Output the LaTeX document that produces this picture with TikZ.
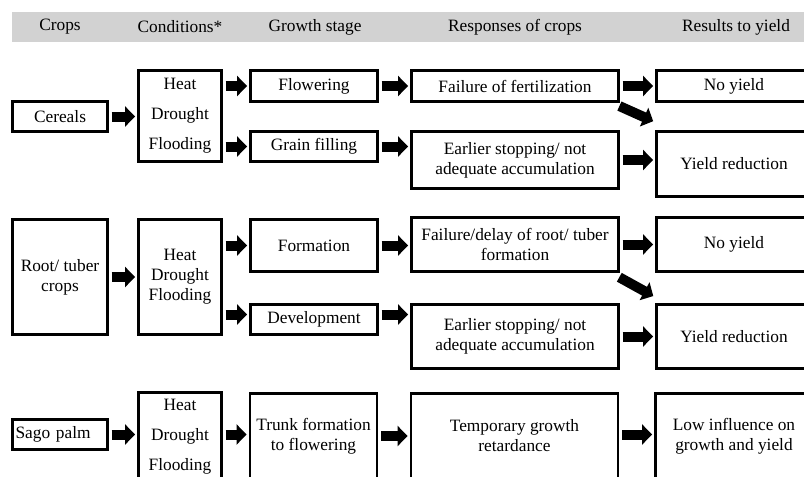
\documentclass[tikz,border=0pt]{standalone}
\usepackage{fontspec}
\setmainfont{Liberation Serif}
\usepackage{xcolor}
\usetikzlibrary{arrows.meta, positioning, calc}
\definecolor{headgray}{RGB}{210,210,210}
\newdimen\pxu \pxu=0.75pt

\begin{document}
\begin{tikzpicture}[x=\pxu, y=-\pxu,
    every node/.style={font=\fontsize{13}{15}\selectfont, align=center, inner sep=1pt},
    box/.style 2 args={draw, line width=2.2pt, minimum width=#1\pxu, minimum height=#2\pxu},
    fat/.style={line width=7.5pt, -{Triangle[length=7.5pt, width=15pt]}, shorten <=2pt, shorten >=1.5pt}]
    \useasboundingbox (0,0) rectangle (804,476);
    \clip (0,0) rectangle (804,476);
    % header
    \fill[headgray] (12,12) rectangle (810,42);
    \node (hcrop) at (60,27) {Crops};
    \node (hcond) at (180,27) {Conditions*};
    \node (hstage) at (315,27) {Growth stage};
    \node (hresp) at (515,27) {Responses of crops};
    \node (hres) at (736,27) {Results to yield};
    % cereals
    \node[box={95}{30}] (cer) at (60,116.5) {Cereals};
    \node[box={83}{91}] (cond1) at (180,116) {Heat\\[7.5pt]Drought\\[7.5pt]Flooding};
    \node[box={127}{31}] (flow) at (314,86) {Flowering};
    \node[box={127}{30}] (grain) at (314,146.5) {Grain filling};
    \node[box={207}{31}] (fail1) at (515,86) {Failure of fertilization};
    \node[box={207}{57}] (early1) at (515,160) {Earlier stopping/ not\\adequate accumulation};
    \node[box={155}{31}] (noy1) at (734,86) {No yield};
    \node[box={155}{65}] (yred1) at (734,164) {Yield reduction};
    \draw[fat] (cer.east) -- (cer.east -| cond1.west);
    \draw[fat] (cond1.east |- flow.west) -- (flow.west);
    \draw[fat] (cond1.east |- grain.west) -- (grain.west);
    \draw[fat] (flow.east) -- (flow.east -| fail1.west);
    \draw[fat] (grain.east) -- (grain.east -| early1.west);
    \draw[fat] (fail1.east) -- (fail1.east -| noy1.west);
    \draw[fat] (early1.east) -- (early1.east -| yred1.west);
    \draw[fat] ($(fail1.south east)+(-3,2)$) -- ($(yred1.north west)+(0,-8)$);
    % root and tuber crops
    \node[box={95}{115}] (root) at (60,277) {Root/ tuber\\crops};
    \node[box={83}{115}] (cond2) at (180,277) {Heat\\Drought\\Flooding};
    \node[box={127}{52}] (form) at (314,245.5) {Formation};
    \node[box={127}{30}] (dev) at (314,319.5) {Development};
    \node[box={207}{54}] (fail2) at (515,244.5) {Failure/delay of root/ tuber\\formation};
    \node[box={207}{64}] (early2) at (515,336.5) {Earlier stopping/ not\\adequate accumulation};
    \node[box={155}{54}] (noy2) at (734,244.5) {No yield};
    \node[box={155}{64}] (yred2) at (734,336.5) {Yield reduction};
    \draw[fat] (root.east) -- (root.east -| cond2.west);
    \draw[fat] (cond2.east |- form.west) -- (form.west);
    \draw[fat] ($(cond2.east |- dev.west)+(0,-5)$) -- ($(dev.west)+(0,-5)$);
    \draw[fat] (form.east) -- (form.east -| fail2.west);
    \draw[fat] ($(dev.east)+(0,-5)$) -- ($(dev.east -| early2.west)+(0,-5)$);
    \draw[fat] (fail2.east) -- (fail2.east -| noy2.west);
    \draw[fat] (early2.east) -- (early2.east -| yred2.west);
    \draw[fat] ($(fail2.south east)+(-3,3)$) -- ($(yred2.north west)+(0,-6)$);
    % sago palm
    \node[box={95}{30}, text width=89\pxu, align=left, inner xsep=2\pxu] (sago) at (60,434.5) {Sago palm};
    \node[box={83}{89}] (cond3) at (180,437) {Heat\\[7.5pt]Drought\\[7.5pt]Flooding};
    \node[box={127}{85}] (trunk) at (313.5,436) {Trunk formation\\to flowering};
    \node[box={207}{85}] (temp) at (514.5,436) {Temporary growth\\retardance};
    \node[box={157}{85}] (low) at (734,436) {Low influence on\\growth and yield};
    \draw[fat] (sago.east) -- (sago.east -| cond3.west);
    \draw[fat] (cond3.east |- sago.east) -- (sago.east -| trunk.west);
    \draw[fat] (trunk.east) -- (trunk.east -| temp.west);
    \draw[fat] (temp.east |- sago.east) -- (sago.east -| low.west);
\end{tikzpicture}
\end{document}
